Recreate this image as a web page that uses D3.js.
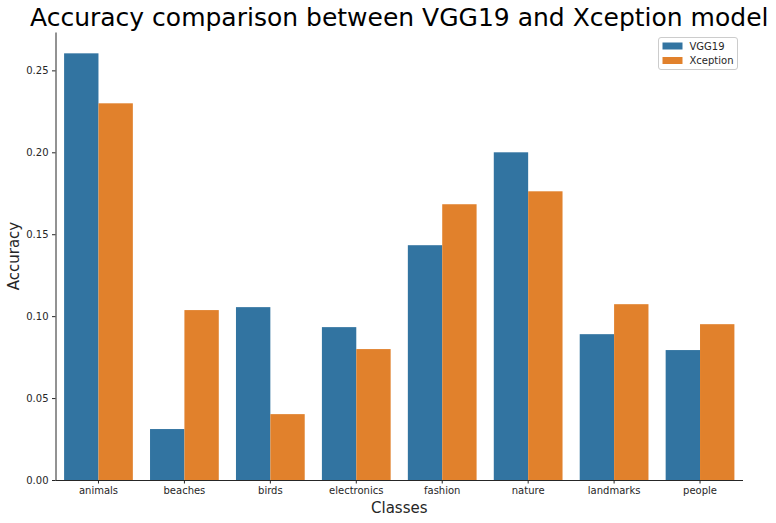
<!DOCTYPE html>
<html>
<head>
<meta charset="utf-8">
<script src="https://cdn.jsdelivr.net/npm/d3@7"></script>
<style>
  html, body { margin: 0; padding: 0; background: #fff; }
  svg { display: block; font-family: "DejaVu Sans", sans-serif; }
</style>
</head>
<body>
<svg id="chart" width="776" height="523"></svg>
<script>
const categories = ["animals", "beaches", "birds", "electronics", "fashion", "nature", "landmarks", "people"];
const seriesNames = ["VGG19", "Xception"];
const vgg19 = [0.2604, 0.0311, 0.1055, 0.0933, 0.1433, 0.2000, 0.0890, 0.0793];
const xception = [0.2299, 0.1037, 0.0402, 0.0799, 0.1683, 0.1762, 0.1073, 0.0951];
const yTicks = [0.00, 0.05, 0.10, 0.15, 0.20, 0.25];
const colors = ["#3274a1", "#e1812c"];

const svg = d3.select("#chart");
const margin = { left: 55.5, right: 33, top: 32, bottom: 43 };
const W = 776, H = 523;
const x0 = margin.left, x1 = W - margin.right, y0 = H - margin.bottom, y1 = margin.top;

const series = [vgg19, xception];
const ymax = d3.max(series.flat()) * 1.05;

const x = d3.scaleBand().domain(categories).range([x0, x1]).paddingInner(0.2).paddingOuter(0.1);
const xs = d3.scaleBand().domain(seriesNames).range([0, x.bandwidth()]);
const y = d3.scaleLinear().domain([0, ymax]).range([y0, y1]);

// bars
seriesNames.forEach((s, si) => {
  svg.append("g").selectAll("rect").data(categories).join("rect")
    .attr("x", d => x(d) + xs(s))
    .attr("width", xs.bandwidth())
    .attr("y", (d, i) => y(series[si][i]))
    .attr("height", (d, i) => y0 - y(series[si][i]))
    .attr("fill", colors[si]);
});

// x axis
const xAxis = svg.append("g").attr("transform", `translate(0,${y0})`)
  .call(d3.axisBottom(x).tickSize(3.5).tickPadding(3.5));
xAxis.select(".domain").attr("stroke", "#262626").attr("stroke-width", 1);
xAxis.selectAll(".tick line").attr("stroke", "#262626");
xAxis.selectAll("text").attr("font-size", 10).attr("fill", "#262626").attr("font-family", "DejaVu Sans");

// y axis
const yAxis = svg.append("g").attr("transform", `translate(${x0},0)`)
  .call(d3.axisLeft(y).tickValues(yTicks).tickFormat(d3.format(".2f")).tickSize(3.5).tickPadding(3.5).tickSizeOuter(0));
yAxis.select(".domain").attr("stroke", "#262626").attr("stroke-width", 1);
yAxis.selectAll(".tick line").attr("stroke", "#262626");
yAxis.selectAll("text").attr("font-size", 10).attr("fill", "#262626").attr("font-family", "DejaVu Sans");
xAxis.select(".domain").attr("d", `M${x0},0.5H${x1}`);

// title
svg.append("text").attr("x", (x0 + x1) / 2).attr("y", 26)
  .attr("text-anchor", "middle").attr("font-size", 25).attr("fill", "#000")
  .text("Accuracy comparison between VGG19 and Xception model");

// axis labels
svg.append("text").attr("x", (x0 + x1) / 2).attr("y", 513)
  .attr("text-anchor", "middle").attr("font-size", 15).attr("fill", "#262626")
  .text("Classes");
svg.append("text").attr("transform", `translate(19,${(y0 + y1) / 2}) rotate(-90)`)
  .attr("text-anchor", "middle").attr("font-size", 15).attr("fill", "#262626")
  .text("Accuracy");

// legend
const lg = svg.append("g").attr("transform", "translate(658.5,37.5)");
lg.append("rect").attr("width", 79).attr("height", 32).attr("rx", 2.5)
  .attr("fill", "#fff").attr("fill-opacity", 0.8).attr("stroke", "#cccccc");
seriesNames.forEach((s, i) => {
  lg.append("rect").attr("x", 4).attr("y", 5 + i * 14.5).attr("width", 20).attr("height", 7).attr("fill", colors[i]);
  lg.append("text").attr("x", 31).attr("y", 12 + i * 14.5).attr("font-size", 10).attr("fill", "#262626").text(s);
});
</script>
</body>
</html>
